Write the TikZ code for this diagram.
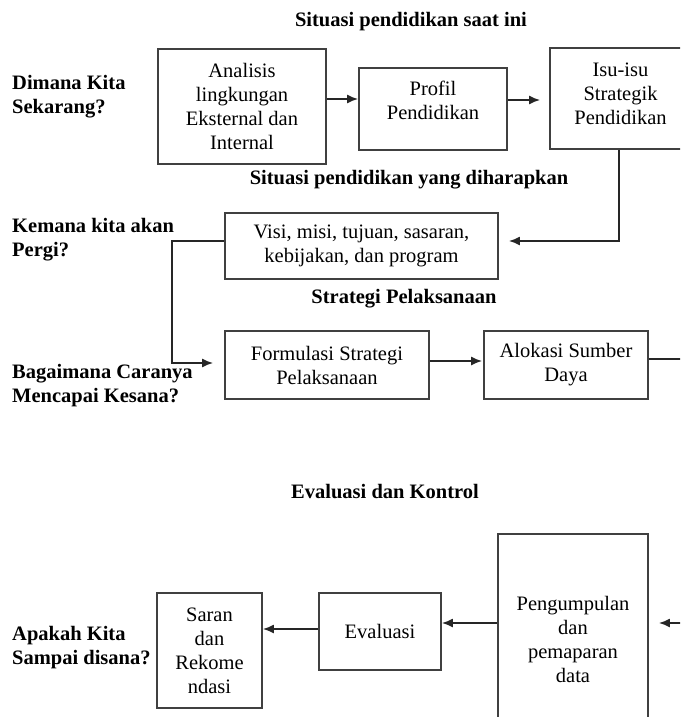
\documentclass[tikz,border=0pt]{standalone}
\usepackage{fontspec}
\setmainfont{Liberation Serif}
\usetikzlibrary{arrows.meta,calc}
\newcommand\diagfont{\fontsize{20.5}{24}\selectfont}
\begin{document}
\begin{tikzpicture}[x=1pt,y=-1pt,
  box/.style={draw=black!75, line width=1.7pt, inner sep=0pt, align=center, font=\diagfont},
  boxtext/.style={inner sep=0pt, align=center, font=\diagfont},
  lbl/.style={anchor=west, align=left, inner sep=0pt, font=\diagfont\bfseries},
  ttl/.style={inner sep=0pt, font=\diagfont\bfseries},
  conn/.style={draw=black!85, line width=1.8pt},
  arr/.style={conn, -{Latex[length=11pt,width=9pt]}}
]
\clip (0,0) rectangle (680,717);
\fill[white] (0,0) rectangle (680,717);

% titles
\node[ttl] (t1) at (411,22) {Situasi pendidikan saat ini};
\node[ttl] (t2) at (409,180) {Situasi pendidikan yang diharapkan};
\node[ttl] (t3) at (404,299) {Strategi Pelaksanaan};
\node[ttl] (t4) at (385,492) {Evaluasi dan Kontrol};

% left questions
\node[lbl] (q1) at (12,96.5) {Dimana Kita\\Sekarang?};
\node[lbl] (q2) at (12,240) {Kemana kita akan\\Pergi?};
\node[lbl] (q3) at (12,385.5) {Bagaimana Caranya\\Mencapai Kesana?};
\node[lbl] (q4) at (12,648) {Apakah Kita\\Sampai disana?};

% boxes
\node[box, minimum width=168, minimum height=115] (ana) at (242,106.5) {Analisis\\lingkungan\\Eksternal dan\\Internal};
\node[box, minimum width=148, minimum height=82] (prof) at (433,109) {};
\node[boxtext] (profT) at ($(prof)+(0,-9)$) {Profil\\Pendidikan};
\node[box, minimum width=141, minimum height=101] (isu) at (620.5,98.5) {};
\node[boxtext] (isuT) at ($(isu)+(0,-5)$) {Isu-isu\\Strategik\\Pendidikan};
\node[box, minimum width=273, minimum height=66] (visi) at (361.5,246) {Visi, misi, tujuan, sasaran,\\kebijakan, dan program};
\node[box, minimum width=204, minimum height=68] (form) at (327,365) {Formulasi Strategi\\Pelaksanaan};
\node[box, minimum width=164, minimum height=68] (alok) at (566,365) {Alokasi Sumber\\Daya};
\node[box, minimum width=105, minimum height=115] (saran) at (209.5,650.5) {Saran\\dan\\Rekome\\ndasi};
\node[box, minimum width=122, minimum height=77] (eval) at (380,631.5) {Evaluasi};
\node[box, minimum width=150, minimum height=210] (peng) at (573,639) {Pengumpulan\\dan\\pemaparan\\data};

% free ends at the picture's edge
\coordinate (edgeA) at (682,359);
\coordinate (edgeP) at (682,623);

% connectors
\draw[arr] ($(ana.east)+(0,-7.5)$) -- ($(prof.west)+(0,-10)$);
\draw[arr] ($(prof.east)+(0,-9)$) -- ($(isu.west)+(-9,1.5)$);
\draw[arr] ($(isu.south)+(-1.5,0)$) |- ($(visi.east)+(10,-5)$);
\draw[arr] ($(visi.west)+(0,-5)$) -| ($(form.west)+(-52,-2)$) -- ($(form.west)+(-11,-2)$);
\draw[arr] ($(form.east)+(0,-4)$) -- ($(alok.west)+(-1,-4)$);
\draw[conn] ($(alok.east)+(0,-6)$) -- (edgeA);
\draw[arr] (edgeP) -- ($(peng.east)+(10,-16)$);
\draw[arr] ($(peng.west)+(0,-16)$) -- ($(eval.east)+(0,-8.5)$);
\draw[arr] ($(eval.west)+(0,-2.5)$) -- ($(saran.east)+(0,-21.5)$);
\end{tikzpicture}
\end{document}
